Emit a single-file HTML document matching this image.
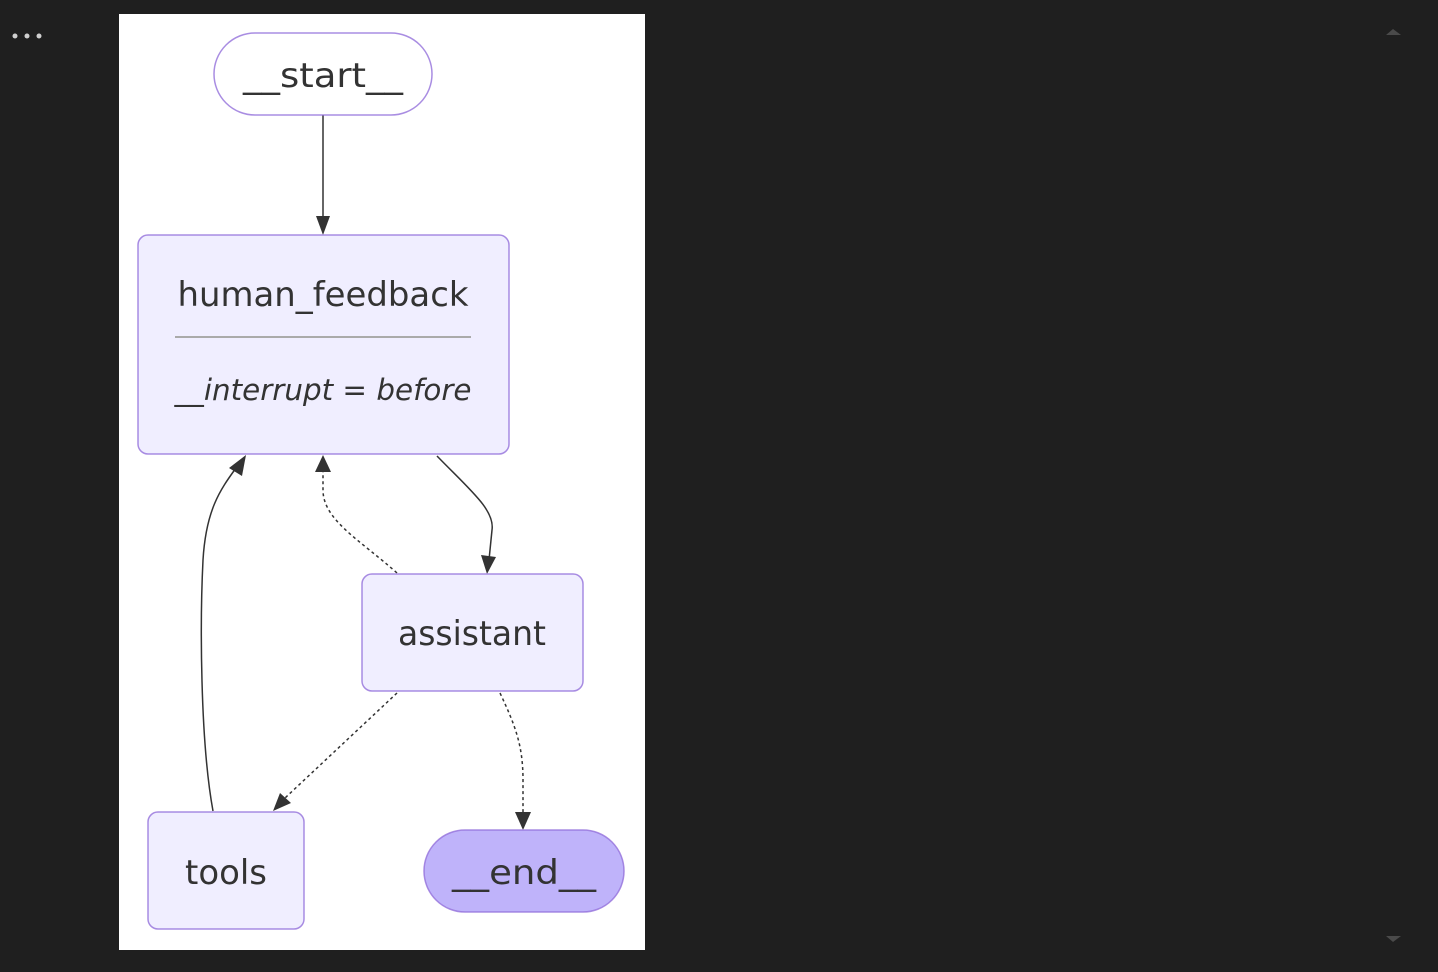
<!DOCTYPE html>
<html><head><style>
html,body{margin:0;padding:0;background:#1f1f1f;width:1438px;height:972px;overflow:hidden}
</style></head><body>
<svg width="1438" height="972" xmlns="http://www.w3.org/2000/svg" style="position:absolute;left:0;top:0">
<defs>
<marker id="a" viewBox="0 0 10 10" refX="9" refY="5" markerWidth="7" markerHeight="7" markerUnits="userSpaceOnUse" orient="auto" style="overflow:visible">
</marker>
</defs>
<rect width="1438" height="972" fill="#1f1f1f"/>
<circle cx="15" cy="36" r="2.5" fill="#cfcfcf"/><circle cx="27" cy="36" r="2.5" fill="#cfcfcf"/><circle cx="39" cy="36" r="2.5" fill="#cfcfcf"/>
<polygon points="1386,35 1393,29 1401,35" fill="#4a4a4a"/>
<polygon points="1386,936 1393,942 1401,936" fill="#4a4a4a"/>
<rect x="119" y="14" width="526" height="936" fill="#ffffff"/>
<g font-family="'DejaVu Sans','Liberation Sans',sans-serif" fill="#333">
<!-- edges -->
<g fill="none" stroke="#333" stroke-width="1.5">
<path d="M323,115 L323,222"/>
<path d="M437,456 C470,490 495,510 492,530 L489,560"/>
<path d="M397,573 C360,540 323,520 323,490 L323,470" stroke-dasharray="3,3"/>
<path d="M213,811 C200,740 200,620 203,560 C206,510 220,490 236,468"/>
<path d="M397,693 L285,798" stroke-dasharray="3,3"/>
<path d="M500,693 C515,725 523,745 523,780 L523,815" stroke-dasharray="3,3"/>
</g>
<g fill="#333">
<polygon points="316,216 330,216 323,235"/>
<polygon points="481,555 496,557 487,574"/>
<polygon points="315,472 331,472 323,455"/>
<polygon points="229,468 242,476 246,455"/>
<polygon points="280,793 291,803 273,811"/>
<polygon points="515,812 531,812 523,830"/>
</g>
<!-- nodes -->
<rect x="214" y="33" width="218" height="82" rx="41" fill="#fff" stroke="#9370db" stroke-opacity="0.8" stroke-width="1.5"/>
<text x="323" y="87" font-size="34" text-anchor="middle" textLength="160" lengthAdjust="spacingAndGlyphs">__start__</text>
<rect x="138" y="235" width="371" height="219" rx="10" fill="#f0eeff" stroke="#9370db" stroke-opacity="0.8" stroke-width="1.5"/>
<text x="323" y="306" font-size="34" text-anchor="middle" textLength="291" lengthAdjust="spacingAndGlyphs">human_feedback</text>
<line x1="175" y1="337" x2="471" y2="337" stroke="#aaa" stroke-width="2"/>
<text x="323" y="400" font-size="29" font-style="italic" text-anchor="middle" textLength="297" lengthAdjust="spacingAndGlyphs">__interrupt = before</text>
<rect x="362" y="574" width="221" height="117" rx="10" fill="#f0eeff" stroke="#9370db" stroke-opacity="0.8" stroke-width="1.5"/>
<text x="472" y="645" font-size="34" text-anchor="middle" textLength="148" lengthAdjust="spacingAndGlyphs">assistant</text>
<rect x="148" y="812" width="156" height="117" rx="10" fill="#f0eeff" stroke="#9370db" stroke-opacity="0.8" stroke-width="1.5"/>
<text x="226" y="884" font-size="34" text-anchor="middle" textLength="82" lengthAdjust="spacingAndGlyphs">tools</text>
<rect x="424" y="830" width="200" height="82" rx="41" fill="#bfb3fa" stroke="#9370db" stroke-opacity="0.8" stroke-width="1.5"/>
<text x="524" y="884" font-size="34" text-anchor="middle" textLength="144" lengthAdjust="spacingAndGlyphs">__end__</text>
</g>
</svg>
</body></html>
